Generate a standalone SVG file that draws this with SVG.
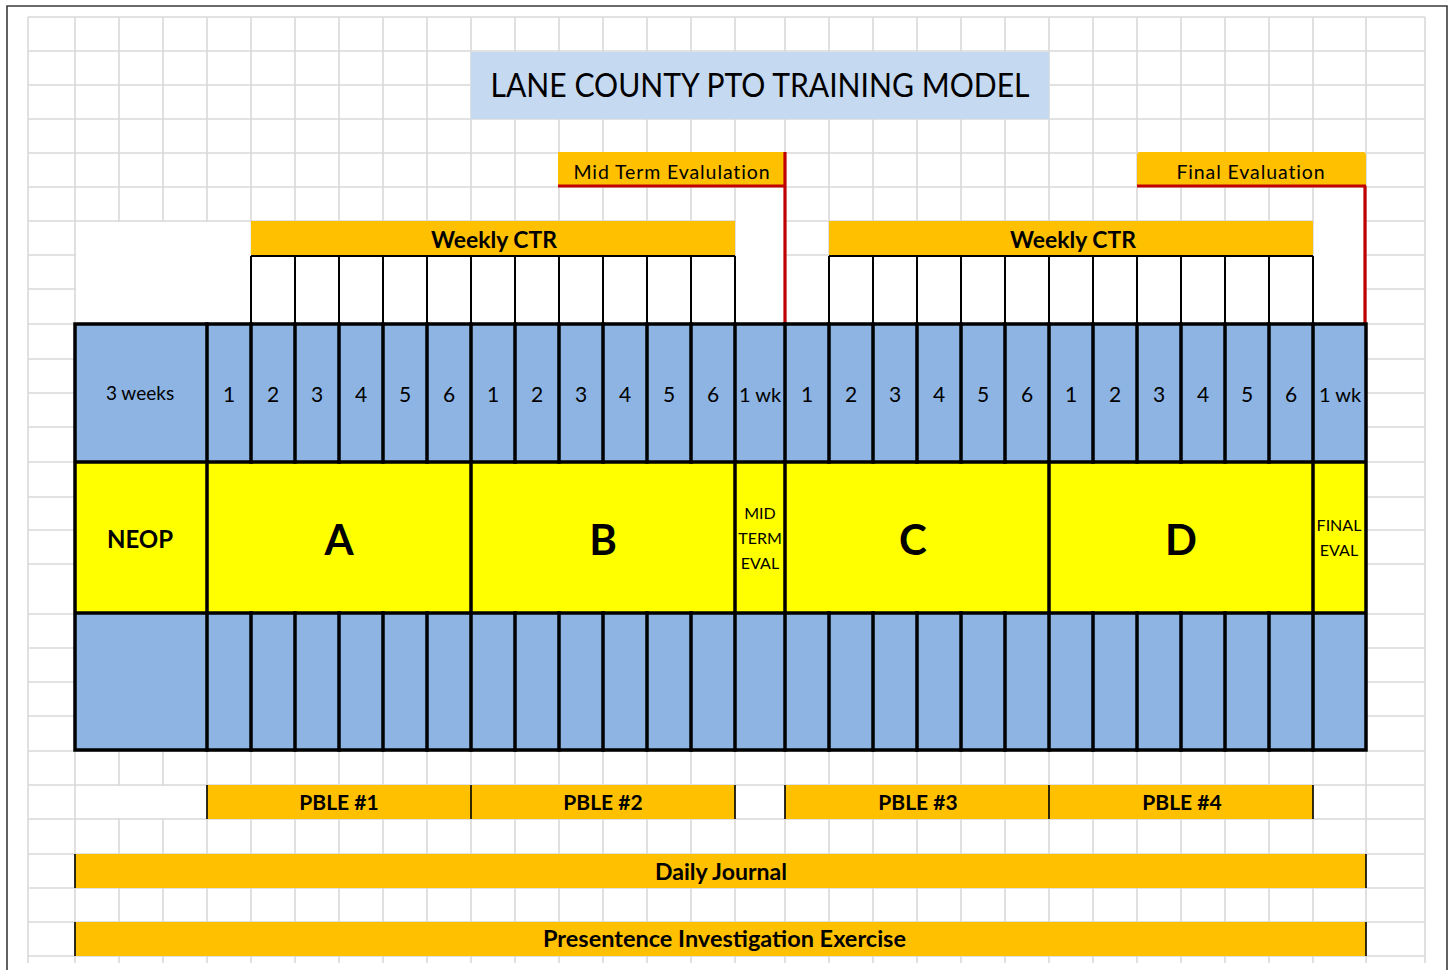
<svg xmlns="http://www.w3.org/2000/svg" width="1453" height="970" viewBox="0 0 1453 970">
  <defs>
    <style>
      .grid { stroke: #d9d9d9; stroke-width: 1.6; fill: none; }
      .frame { stroke: #3a3a3a; stroke-width: 1.6; fill: none; }
      .orange { fill: #ffc000; }
      .blue { fill: #8db4e2; }
      .yellow { fill: #ffff00; }
      .thick { stroke: #000; stroke-width: 3.5; fill: none; stroke-linecap: square; }
      .thin { stroke: #000; stroke-width: 2; fill: none; }
      .edge { stroke: #000; stroke-width: 1.6; fill: none; }
      .red { stroke: #c00000; stroke-width: 3.2; fill: none; }
      text { font-family: Lato, "Open Sans", "Liberation Sans", sans-serif; fill: #000; text-anchor: middle; }
      .title { font-size: 32px; }
      .num { font-size: 21px; }
      .wk { font-size: 20px; }
      .weeks { font-size: 19px; }
      .small { font-size: 16px; }
      .eval { font-size: 19.5px; letter-spacing: 0.9px; }
      .band { font-size: 22.5px; font-weight: bold; }
      .pble { font-size: 21px; font-weight: bold; }
      .wide { font-size: 22.5px; font-weight: bold; }
      .neop { font-size: 24px; font-weight: bold; }
      .phase { font-size: 42px; font-weight: bold; }
    </style>
  </defs>

  <rect x="0" y="0" width="1453" height="970" fill="#fff"/>

  <!-- worksheet grid -->
  <g id="grid">
    <path class="grid" d="M28 17V963M75 17V963M119 17V963M163 17V963M207 17V963M251 17V963M295 17V963M339 17V963M383 17V963M427 17V963M471 17V963M515 17V963M559 17V963M603 17V963M647 17V963M691 17V963M735 17V963M785 17V963M829 17V963M873 17V963M917 17V963M961 17V963M1005 17V963M1049 17V963M1093 17V963M1137 17V963M1181 17V963M1225 17V963M1269 17V963M1313 17V963M1366 17V963M1425 17V963"/>
    <path class="grid" d="M28 17H1425M28 51H1425M28 85H1425M28 119H1425M28 153H1425M28 187H1425M28 221H1425M28 255H1425M28 289H1425M28 324H1425M28 359H1425M28 393H1425M28 427H1425M28 462H1425M28 497H1425M28 530H1425M28 564H1425M28 614H1425M28 648H1425M28 682H1425M28 716H1425M28 751H1425M28 785H1425M28 819H1425M28 854H1425M28 888H1425M28 922H1425M28 956H1425"/>
    <!-- merged (blank) cells -->
    <rect x="76" y="222" width="174.5" height="101" fill="#fff"/>
    <rect x="736" y="188" width="48" height="135" fill="#fff"/>
    <rect x="786" y="256.5" width="42" height="67" fill="#fff"/>
    <rect x="1314" y="188" width="51" height="135" fill="#fff"/>
    <rect x="76" y="786" width="130" height="32" fill="#fff"/>
  </g>

  <!-- page frame -->
  <path class="frame" d="M7 970V6H1447V970"/>

  <g id="title">
    <rect x="471" y="52" width="578" height="67" fill="#c5d9f1"/>
    <text class="title" x="760" y="97" textLength="539" lengthAdjust="spacingAndGlyphs">LANE COUNTY PTO TRAINING MODEL</text>
  </g>

  <g id="midterm-evaluation">
    <rect class="orange" x="558" y="152" width="227" height="34"/>
    <text class="eval" x="672" y="179">Mid Term Evalulation</text>
  </g>

  <g id="final-evaluation">
    <path class="orange" d="M1137 187V155Q1137 152 1140 152H1363Q1366 152 1366 155V187Z"/>
    <text class="eval" x="1251" y="179">Final Evaluation</text>
  </g>

  <g id="weekly-ctr-1">
    <rect class="orange" x="251" y="221" width="484" height="34"/>
    <rect x="251" y="256" width="484" height="68" fill="#fff"/>
    <path class="thin" d="M251 256H735M251 256V324M295 256V324M339 256V324M383 256V324M427 256V324M471 256V324M515 256V324M559 256V324M603 256V324M647 256V324M691 256V324M735 256V324"/>
    <text class="band" x="494" y="248" textLength="126" lengthAdjust="spacingAndGlyphs">Weekly CTR</text>
  </g>

  <g id="weekly-ctr-2">
    <rect class="orange" x="829" y="221" width="484" height="34"/>
    <rect x="829" y="256" width="484" height="68" fill="#fff"/>
    <path class="thin" d="M829 256H1313M829 256V324M873 256V324M917 256V324M961 256V324M1005 256V324M1049 256V324M1093 256V324M1137 256V324M1181 256V324M1225 256V324M1269 256V324M1313 256V324"/>
    <text class="band" x="1073" y="248" textLength="126" lengthAdjust="spacingAndGlyphs">Weekly CTR</text>
  </g>

  <!-- evaluation markers -->
  <g id="connectors">
    <path class="red" d="M558 186H786M785 152V324"/>
    <path class="red" d="M1137 186H1366M1365 186V324"/>
  </g>

  <g id="schedule">
    <rect class="blue" x="75" y="324" width="1291" height="426"/>
    <rect class="yellow" x="75" y="462" width="1291" height="151"/>

    <g id="week-row">
      <text class="weeks" x="140" y="400">3 weeks</text>
      <text class="num" x="229" y="402">1</text>
      <text class="num" x="273" y="402">2</text>
      <text class="num" x="317" y="402">3</text>
      <text class="num" x="361" y="402">4</text>
      <text class="num" x="405" y="402">5</text>
      <text class="num" x="449" y="402">6</text>
      <text class="num" x="493" y="402">1</text>
      <text class="num" x="537" y="402">2</text>
      <text class="num" x="581" y="402">3</text>
      <text class="num" x="625" y="402">4</text>
      <text class="num" x="669" y="402">5</text>
      <text class="num" x="713" y="402">6</text>
      <text class="wk" x="760" y="402">1 wk</text>
      <text class="num" x="807" y="402">1</text>
      <text class="num" x="851" y="402">2</text>
      <text class="num" x="895" y="402">3</text>
      <text class="num" x="939" y="402">4</text>
      <text class="num" x="983" y="402">5</text>
      <text class="num" x="1027" y="402">6</text>
      <text class="num" x="1071" y="402">1</text>
      <text class="num" x="1115" y="402">2</text>
      <text class="num" x="1159" y="402">3</text>
      <text class="num" x="1203" y="402">4</text>
      <text class="num" x="1247" y="402">5</text>
      <text class="num" x="1291" y="402">6</text>
      <text class="wk" x="1340" y="402">1 wk</text>
    </g>

    <g id="phase-row">
      <text class="neop" x="140" y="548">NEOP</text>
      <text class="phase" x="339" y="555">A</text>
      <text class="phase" x="603" y="555">B</text>
      <text class="small" x="760" y="519">MID</text>
      <text class="small" x="760" y="544">TERM</text>
      <text class="small" x="760" y="569">EVAL</text>
      <text class="phase" x="913" y="555">C</text>
      <text class="phase" x="1181" y="555">D</text>
      <text class="small" x="1339" y="531">FINAL</text>
      <text class="small" x="1339" y="556">EVAL</text>
    </g>

    <!-- cell borders -->
    <path class="thick" d="M75 324H1366M75 462H1366M75 613H1366M75 750H1366M75 324V750M1366 324V750"/>
    <path class="thick" d="M207 324V750M471 324V750M735 324V750M785 324V750M1049 324V750M1313 324V750"/>
    <path class="thick" d="M251 324V462M295 324V462M339 324V462M383 324V462M427 324V462M515 324V462M559 324V462M603 324V462M647 324V462M691 324V462M829 324V462M873 324V462M917 324V462M961 324V462M1005 324V462M1093 324V462M1137 324V462M1181 324V462M1225 324V462M1269 324V462"/>
    <path class="thick" d="M251 613V750M295 613V750M339 613V750M383 613V750M427 613V750M515 613V750M559 613V750M603 613V750M647 613V750M691 613V750M829 613V750M873 613V750M917 613V750M961 613V750M1005 613V750M1093 613V750M1137 613V750M1181 613V750M1225 613V750M1269 613V750"/>
  </g>

  <g id="pble-1">
    <rect class="orange" x="207" y="785" width="264" height="34"/>
    <text class="pble" x="339" y="810">PBLE #1</text>
  </g>
  <g id="pble-2">
    <rect class="orange" x="471" y="785" width="264" height="34"/>
    <text class="pble" x="603" y="810">PBLE #2</text>
  </g>
  <g id="pble-3">
    <rect class="orange" x="785" y="785" width="264" height="34"/>
    <text class="pble" x="918" y="810">PBLE #3</text>
  </g>
  <g id="pble-4">
    <rect class="orange" x="1049" y="785" width="264" height="34"/>
    <text class="pble" x="1182" y="810">PBLE #4</text>
  </g>
  <path class="edge" d="M207 785V819M471 785V819M735 785V819M785 785V819M1049 785V819M1313 785V819"/>

  <g id="daily-journal">
    <rect class="orange" x="75" y="854" width="1291" height="34"/>
    <path class="edge" d="M75 854V888M1366 854V888"/>
    <text class="wide" x="721" y="880" textLength="132" lengthAdjust="spacingAndGlyphs">Daily Journal</text>
  </g>

  <g id="presentence-investigation">
    <rect class="orange" x="75" y="922" width="1291" height="34"/>
    <path class="edge" d="M75 922V956M1366 922V956"/>
    <text class="wide" x="724.5" y="947" textLength="363" lengthAdjust="spacingAndGlyphs">Presentence Investigation Exercise</text>
  </g>
</svg>
